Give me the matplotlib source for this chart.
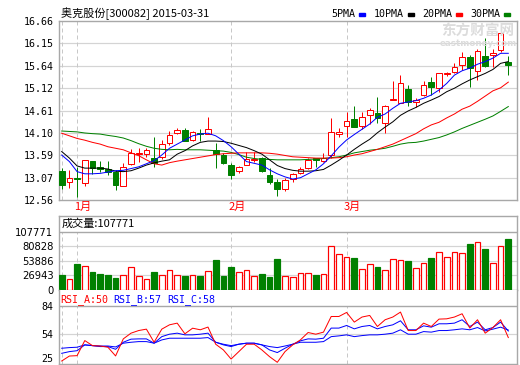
import matplotlib
matplotlib.use('Agg')
import matplotlib.pyplot as plt
from matplotlib.patches import Rectangle

plt.rcParams['font.family'] = ['DejaVu Sans', 'Noto Sans CJK SC']
CJK = ['Noto Sans CJK SC', 'DejaVu Sans']
MONO = 'DejaVu Sans Mono'

# ---- data ----
opens = [13.225, 12.965, 13.06, 12.94, 13.45, 13.32, 13.26, 13.21, 12.88, 13.385,
         13.61, 13.61, 13.52, 13.54, 13.87, 14.09, 14.16, 13.935, 14.09, 14.065,
         13.70, 13.59, 13.36, 13.22, 13.36, 13.48, 13.52, 13.13, 12.98, 12.805,
         13.035, 13.17, 13.29, 13.52, 13.46, 13.59, 14.065, 14.255, 14.41, 14.255,
         14.51, 14.56, 14.33, 14.85, 14.78, 15.10, 14.81, 14.965, 15.27, 15.12,
         15.45, 15.50, 15.65, 15.84, 15.52, 15.86, 15.89, 15.995, 15.73]
highs = [13.29, 13.25, 13.31, 13.47, 13.45, 13.46, 13.45, 13.25, 13.40, 13.72,
         13.76, 13.76, 14.01, 13.93, 14.15, 14.20, 14.20, 14.15, 14.18, 14.47,
         13.87, 13.63, 13.40, 13.34, 13.67, 13.65, 13.54, 13.29, 13.035, 13.06,
         13.17, 13.32, 13.52, 13.53, 13.63, 14.43, 14.22, 14.58, 14.71, 14.58,
         14.66, 14.91, 14.74, 15.29, 15.42, 15.19, 14.89, 15.29, 15.385, 15.46,
         15.50, 15.705, 15.96, 15.88, 16.03, 16.26, 16.03, 16.545, 15.86]
lows = [12.81, 12.84, 12.62, 12.89, 13.16, 13.21, 13.13, 12.79, 12.88, 13.36,
        13.44, 13.54, 13.32, 13.49, 13.82, 14.065, 13.90, 13.91, 13.90, 14.065,
        13.29, 13.385, 13.04, 13.17, 13.36, 13.44, 13.20, 12.93, 12.66, 12.77,
        12.98, 13.16, 13.26, 13.32, 13.44, 13.52, 14.01, 14.01, 14.23, 14.18,
        14.30, 14.33, 14.10, 14.85, 14.775, 14.71, 14.68, 14.94, 14.965, 15.04,
        15.40, 15.46, 15.54, 15.14, 15.31, 15.61, 15.61, 15.96, 15.42]
closes = [12.90, 13.06, 13.03, 13.47, 13.29, 13.28, 13.19, 12.90, 13.32, 13.63,
          13.64, 13.70, 13.40, 13.84, 14.05, 14.16, 13.92, 14.11, 14.065, 14.18,
          13.61, 13.40, 13.13, 13.31, 13.50, 13.49, 13.22, 12.98, 12.805, 13.02,
          13.15, 13.26, 13.48, 13.48, 13.52, 14.11, 14.11, 14.38, 14.24, 14.47,
          14.62, 14.43, 14.71, 14.87, 15.23, 14.81, 14.85, 15.19, 15.155, 15.46,
          15.48, 15.60, 15.83, 15.58, 15.98, 15.63, 15.92, 16.39, 15.65]
volumes = [27600, 19700, 47800, 44200, 33700, 29400, 27600, 22600, 27600, 41800,
           25800, 19700, 33700, 27600, 36800, 27600, 25800, 27600, 25800, 35000,
           55200, 25800, 42900, 33700, 36800, 25800, 29400, 24500, 56500, 26300,
           23400, 30700, 30700, 27600, 28900, 82200, 65700, 61300, 58300, 38100,
           47300, 41800, 36800, 56500, 55200, 53400, 39900, 49100, 58300, 70500,
           61300, 70500, 67500, 85900, 88900, 76700, 49100, 81000, 95100]
ma5 = [13.59, 13.44, 13.21, 13.16, 13.16, 13.17, 13.20, 13.23, 13.24, 13.28,
       13.32, 13.39, 13.46, 13.59, 13.745, 13.84, 13.935, 14.03, 14.07, 14.09,
       14.03, 13.92, 13.78, 13.61, 13.44, 13.40, 13.36, 13.25, 13.16, 13.09,
       13.04, 13.07, 13.16, 13.25, 13.39, 13.57, 13.77, 13.935, 14.06, 14.18,
       14.30, 14.455, 14.53, 14.66, 14.775, 14.805, 14.835, 14.89, 14.965, 15.08,
       15.23, 15.42, 15.52, 15.58, 15.67, 15.73, 15.81, 15.92, 15.92]
ma10 = [13.67, 13.52, 13.34, 13.29, 13.29, 13.29, 13.27, 13.22, 13.21, 13.23,
        13.29, 13.36, 13.41, 13.45, 13.48, 13.61, 13.69, 13.80, 13.88, 13.91,
        13.91, 13.90, 13.86, 13.81, 13.76, 13.69, 13.61, 13.48, 13.35, 13.28,
        13.24, 13.22, 13.22, 13.23, 13.26, 13.36, 13.47, 13.59, 13.72, 13.84,
        13.95, 14.10, 14.23, 14.35, 14.50, 14.60, 14.68, 14.775, 14.85, 14.93,
        15.04, 15.12, 15.22, 15.31, 15.385, 15.46, 15.55, 15.69, 15.73]
ma20 = [14.09, 14.03, 13.97, 13.93, 13.88, 13.84, 13.78, 13.745, 13.71, 13.64,
        13.575, 13.48, 13.39, 13.36, 13.415, 13.45, 13.48, 13.51, 13.54, 13.57,
        13.60, 13.62, 13.63, 13.64, 13.64, 13.64, 13.64, 13.63, 13.61, 13.58,
        13.55, 13.54, 13.53, 13.52, 13.52, 13.52, 13.53, 13.55, 13.59, 13.62,
        13.67, 13.72, 13.78, 13.84, 13.92, 14.00, 14.08, 14.19, 14.28, 14.34,
        14.44, 14.53, 14.64, 14.71, 14.82, 14.94, 15.06, 15.13, 15.26]
ma30 = [14.14, 14.13, 14.12, 14.095, 14.08, 14.07, 14.04, 14.015, 13.98, 13.92,
        13.85, 13.79, 13.745, 13.72, 13.71, 13.72, 13.71, 13.71, 13.71, 13.70,
        13.69, 13.68, 13.65, 13.60, 13.54, 13.51, 13.49, 13.49, 13.48, 13.48,
        13.48, 13.48, 13.49, 13.50, 13.51, 13.53, 13.55, 13.59, 13.64, 13.67,
        13.70, 13.72, 13.745, 13.79, 13.84, 13.87, 13.88, 13.91, 13.95, 13.99,
        14.05, 14.12, 14.20, 14.27, 14.34, 14.41, 14.485, 14.59, 14.70]
rsi_a = [25.0, 30.3, 30.7, 46.8, 41.4, 41.0, 39.7, 30.4, 48.6, 54.7,
         57.5, 59.0, 45.0, 59.0, 63.6, 65.4, 54.0, 60.0, 58.3, 61.2,
         42.9, 36.8, 27.1, 35.0, 42.9, 42.9, 36.8, 29.6, 23.6, 35.0,
         42.2, 47.5, 55.4, 53.6, 55.8, 72.5, 72.5, 76.8, 66.5, 71.9,
         73.6, 61.8, 69.0, 71.9, 77.2, 57.5, 57.5, 65.4, 61.8, 69.7,
         70.0, 71.9, 75.4, 60.1, 69.0, 54.7, 60.7, 69.0, 50.0]
rsi_b = [33.2, 35.0, 36.0, 42.2, 41.4, 40.4, 40.4, 37.5, 45.0, 48.3,
         48.6, 48.6, 44.0, 51.0, 53.6, 54.7, 52.9, 52.9, 53.6, 54.7,
         45.0, 42.2, 40.4, 42.9, 44.0, 44.0, 42.2, 36.8, 34.0, 38.6,
         42.9, 46.5, 48.6, 48.3, 49.3, 60.1, 60.1, 62.9, 59.3, 61.8,
         62.9, 59.3, 61.8, 63.6, 67.9, 58.3, 58.3, 62.5, 61.1, 64.7,
         64.7, 65.4, 69.0, 61.8, 66.5, 58.3, 60.7, 66.5, 57.0]
rsi_c = [38.6, 39.3, 39.7, 42.2, 41.4, 41.0, 41.0, 40.0, 44.0, 45.0,
         45.7, 45.7, 44.0, 47.5, 49.3, 49.3, 49.3, 49.3, 49.3, 50.0,
         45.0, 42.9, 41.4, 42.9, 44.0, 44.0, 42.2, 40.4, 39.3, 41.0,
         42.9, 45.0, 45.0, 45.0, 45.7, 51.0, 51.8, 52.9, 51.0, 52.1,
         52.9, 52.9, 53.6, 54.7, 58.3, 53.6, 53.6, 56.4, 55.8, 57.5,
         57.5, 58.3, 59.3, 58.3, 60.7, 57.1, 59.0, 61.1, 58.0]

divider_idx = [0, 2, 22, 37]
month_labels = ['', '1月', '2月', '3月']
price_ticks = [12.56, 13.07, 13.59, 14.10, 14.61, 15.12, 15.64, 16.15, 16.66]
vol_ticks = [0, 26943, 53886, 80828, 107771]
rsi_ticks = [25, 54, 84]

RED, GREEN, BLUE = '#FF0000', '#008000', '#0000FF'
FRAME, GRID, DASH = '#A8A8A8', '#D4D4D4', '#C8C8C8'
PX = 0.72  # one pixel in points

W, H = 520, 365
fig = plt.figure(figsize=(W / 100, H / 100), dpi=100)


def frac(x0, y0, x1, y1):
    return [x0 / W, 1 - y1 / H, (x1 - x0) / W, (y1 - y0) / H]


n = len(closes)
xs = list(range(n))
xlim = (-0.35, 59.13)
bw = 0.74


def style(ax):
    ax.set_xlim(*xlim)
    ax.set_xticks([])
    for s in ax.spines.values():
        s.set_color(FRAME)
        s.set_linewidth(1.4 * PX)
    ax.tick_params(axis='y', length=0, pad=4, labelsize=7.2)


# ---- price panel ----
ax = fig.add_axes(frac(59, 21, 517, 200))
style(ax)
ax.set_ylim(12.56, 16.66)
ax.set_yticks(price_ticks)
ax.set_yticklabels(['%.2f' % t for t in price_ticks], family=MONO)
for t in price_ticks[1:-1]:
    ax.axhline(t, color=GRID, lw=1.2 * PX, zorder=0)
for d in divider_idx:
    ax.axvline(d, color=DASH, lw=PX, ls=(0, (4, 3)), zorder=0)

for i in xs:
    o, h, l, c = opens[i], highs[i], lows[i], closes[i]
    up = c >= o
    col = RED if up else GREEN
    ax.vlines(i, l, h, color=col, lw=PX, zorder=2)
    lo, hi = min(o, c), max(o, c)
    ax.add_patch(Rectangle((i - bw / 2, lo), bw, max(hi - lo, 0.012),
                           facecolor='white' if up else GREEN,
                           edgecolor=col, lw=PX, zorder=3))

for ma, col in [(ma30, GREEN), (ma20, RED), (ma10, 'black'), (ma5, BLUE)]:
    ax.plot(xs, ma, color=col, lw=PX, zorder=4)

# ---- volume panel ----
axv = fig.add_axes(frac(59, 216, 517, 290))
style(axv)
axv.set_ylim(0, 107771 * 74 / 58.3)
axv.set_yticks(vol_ticks)
axv.set_yticklabels([str(t) for t in vol_ticks])
axv.axhline(vol_ticks[-1], color=FRAME, lw=1.4 * PX, zorder=5)
for t in vol_ticks[1:-1]:
    axv.axhline(t, color=GRID, lw=1.2 * PX, zorder=0)
for d in divider_idx:
    axv.vlines(d, 0, vol_ticks[-1], color=DASH, lw=PX, linestyles=(0, (4, 3)), zorder=0)
for i in xs:
    up = closes[i] >= opens[i]
    axv.add_patch(Rectangle((i - bw / 2, 0), bw, volumes[i],
                            facecolor='white' if up else GREEN,
                            edgecolor=RED if up else GREEN, lw=1.2 * PX, zorder=3))
axv.text(0.005, 1 - 7.8 / 74, '成交量:107771', transform=axv.transAxes,
         family=CJK, fontsize=8, va='center', ha='left')

# ---- RSI panel ----
axr = fig.add_axes(frac(59, 290, 517, 364))
style(axr)
axr.spines['top'].set_visible(False)
r_lo = 21.8
axr.set_ylim(r_lo, 84 + (84 - r_lo) * 15.7 / 58.3)
axr.set_yticks(rsi_ticks[1:])
axr.set_yticklabels([str(t) for t in rsi_ticks[1:]], family=MONO)
# lowest RSI label sits just above the image edge, as in the reference
axr.annotate(str(rsi_ticks[0]), xy=(0, r_lo), xycoords=('axes fraction', 'data'),
             xytext=(-4, 0.3), textcoords='offset points', ha='right', va='bottom',
             family=MONO, fontsize=7.2)
axr.axhline(84, color=FRAME, lw=1.4 * PX, zorder=5)
axr.axhline(54, color=GRID, lw=1.2 * PX, zorder=0)
for d in divider_idx:
    axr.vlines(d, r_lo, 84, color=DASH, lw=PX, linestyles=(0, (4, 3)), zorder=0)
axr.plot(xs, rsi_c, color=BLUE, lw=PX, zorder=3)
axr.plot(xs, rsi_b, color=BLUE, lw=PX, zorder=3)
axr.plot(xs, rsi_a, color=RED, lw=PX, zorder=4)
for txt, col, x0 in [('RSI_A:50', RED, 60), ('RSI_B:57', BLUE, 113), ('RSI_C:58', BLUE, 167)]:
    fig.text(x0 / W, 1 - 299.5 / H, txt, color=col, family=MONO, fontsize=7.2, va='center')

# ---- month labels ----
for d, lab in zip(divider_idx, month_labels):
    if lab:
        ax.text(d - 0.35, 12.56 - 0.16, lab, color=RED, family=CJK, fontsize=8,
                va='center', ha='left', clip_on=False)

# ---- title, legend, watermark ----
fig.text(61 / W, 1 - 14 / H, '奥克股份[300082] 2015-03-31', family=CJK, fontsize=8, va='center')
legend = [('5PMA', BLUE, 331), ('10PMA', 'black', 374), ('20PMA', RED, 422), ('30PMA', GREEN, 470)]
for lab, col, x0 in legend:
    fig.text(x0 / W, 1 - 14 / H, lab, family=MONO, fontsize=7.2, va='center')
    xe = x0 + 6 * len(lab) + 4
    fig.add_artist(Rectangle((xe / W, 1 - 15.5 / H), 5.5 / W, 3 / H,
                             transform=fig.transFigure, color=col))
fig.text(478 / W, 1 - 31 / H, '东方财富网', family=CJK, fontsize=10.5, weight='bold',
         color='#DCDCDC', va='center', ha='center', zorder=0)
fig.text(478 / W, 1 - 43 / H, 'eastmoney.com', fontsize=6.3, weight='bold',
         color='#DCDCDC', va='center', ha='center', zorder=0)

fig.savefig('out.png', dpi=100)
